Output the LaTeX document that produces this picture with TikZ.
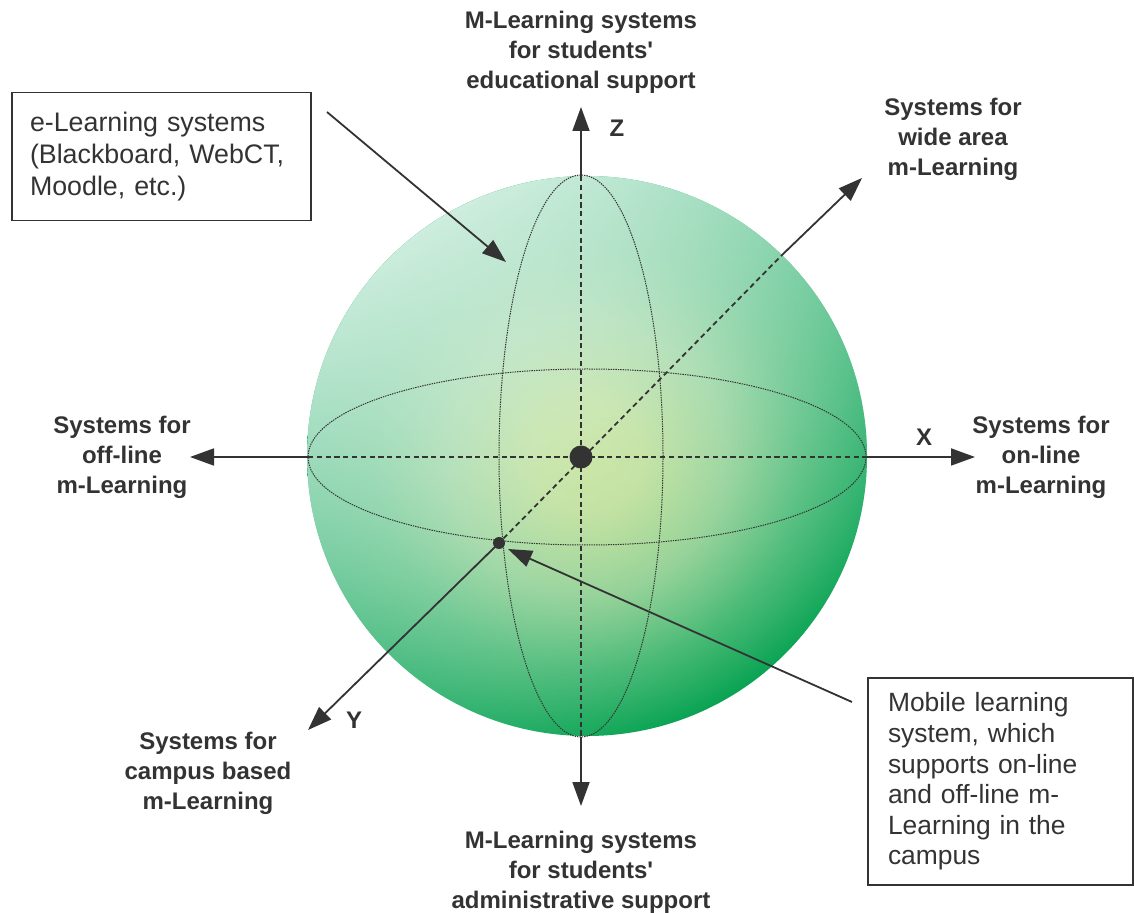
\documentclass[tikz,border=0pt]{standalone}
\usepackage{fontspec}
\setmainfont{Liberation Sans}
\usetikzlibrary{arrows.meta,fadings}

\definecolor{ink}{HTML}{333333}
\definecolor{sphA}{HTML}{B8DA70}
\definecolor{sphB}{HTML}{B0D776}
\definecolor{sphC}{HTML}{7CC77E}
\definecolor{sphD}{HTML}{35B266}
\definecolor{sphE}{HTML}{05A250}
\definecolor{mintlight}{HTML}{E4F6EE}

% green ball, yellowish in the middle (24bp is the rim)
\pgfdeclareradialshading{spherebase}{\pgfpointorigin}{%
  color(0bp)=(sphA); color(4.8bp)=(sphB); color(12bp)=(sphC);
  color(18.3bp)=(sphD); color(24.1bp)=(sphE); color(50bp)=(sphE)}
% light coming from the upper left
\tikzfading[name=lightfade, top color=transparent!8, bottom color=transparent!100]

\begin{document}
\begin{tikzpicture}[x=0.5pt,y=-0.5pt,>={Triangle[length=12pt,width=8.5pt]},
    axis/.style={ink,line width=0.9pt},
    inaxis/.style={ink,line width=0.9pt,dash pattern=on 2.6pt off 1.8pt},
    grid/.style={ink,line width=0.5pt,dash pattern=on 0.7pt off 0.5pt},
    dot/.style={circle,fill=ink,inner sep=0pt},
    sidelabel/.style={align=center,text=ink,inner sep=0pt,font=\fontsize{12}{15}\selectfont\bfseries},
    notebox/.style={draw=ink,line width=0.7pt,align=left,text=ink,inner ysep=0pt}]
    \useasboundingbox (0,0) rectangle (1134,913);

    % sphere
    \begin{scope}
        \clip (587,456) circle (280);
        \shade[shading=spherebase] (587,456) circle (290);
        \fill[mintlight,path fading=lightfade,fading angle=30] (587,456) circle (290);
    \end{scope}
    \draw[grid] (587,457) ellipse (279 and 88);
    \draw[grid] (581,456) ellipse (82 and 281);

    \node[dot,minimum size=11.5pt] (o) at (581,457) {};
    \node[dot,minimum size=6pt] (p) at (499,543) {};

    \coordinate (xin) at (866,457);
    \coordinate (xout) at (975,457);
    \coordinate (win) at (308,457);
    \coordinate (wout) at (190,457);
    \coordinate (zin) at (581,176);
    \coordinate (zout) at (581,107);
    \coordinate (din) at (581,737);
    \coordinate (dout) at (581,806);
    \coordinate (rin) at (781,256);
    \coordinate (rout) at (862,178);
    \coordinate (yout) at (308,730);

    \draw[inaxis] (win) -- (xin);
    \draw[inaxis] (zin) -- (din);
    \draw[inaxis] (p) -- (rin);
    \draw[axis,->] (xin) -- (xout);
    \draw[axis,->] (win) -- (wout);
    \draw[axis,->] (zin) -- (zout);
    \draw[axis,->] (din) -- (dout);
    \draw[axis,->] (rin) -- (rout);
    \draw[axis,->] (p.center) -- (yout);

    \node[sidelabel] (zname) at (617,128) {Z};
    \node[sidelabel] (xname) at (924,437) {X};
    \node[sidelabel] (yname) at (354,720) {Y};

    \node[sidelabel] (top) at (581,52) {M-Learning systems\\for students\textquotesingle\\educational support};
    \node[sidelabel] (bottom) at (581,872) {M-Learning systems\\for students\textquotesingle\\administrative support};
    \node[sidelabel] (online) at (1041,457) {Systems for\\on-line\\m-Learning};
    \node[sidelabel] (offline) at (122,457) {Systems for\\off-line\\m-Learning};
    \node[sidelabel] (wide) at (953,139) {Systems for\\wide area\\m-Learning};
    \node[sidelabel] (campus) at (208,773) {Systems for\\campus based\\m-Learning};

    \node[notebox,minimum width=149.5pt,minimum height=64pt,text width=131.5pt,inner xsep=9pt,
        font=\fontsize{13.4}{16.2}\selectfont] (elearn) at (161.5,156.5)
        {e-Learning systems\\(Blackboard, WebCT,\\Moodle, etc.)};
    \node[notebox,minimum width=132.5pt,minimum height=103.5pt,text width=112.5pt,inner xsep=10pt,
        font=\fontsize{13.2}{15.3}\selectfont] (mobile) at (1000.5,781.5)
        {Mobile learning\\system, which\\supports on-line\\and off-line m-\\Learning in the\\campus};

    \coordinate (efrom) at (327,112);
    \coordinate (eto) at (506,262);
    \coordinate (mfrom) at (852,702);
    \coordinate (mto) at (508,549);
    \draw[axis,->] (efrom) -- (eto);
    \draw[axis,->] (mfrom) -- (mto);
\end{tikzpicture}
\end{document}
